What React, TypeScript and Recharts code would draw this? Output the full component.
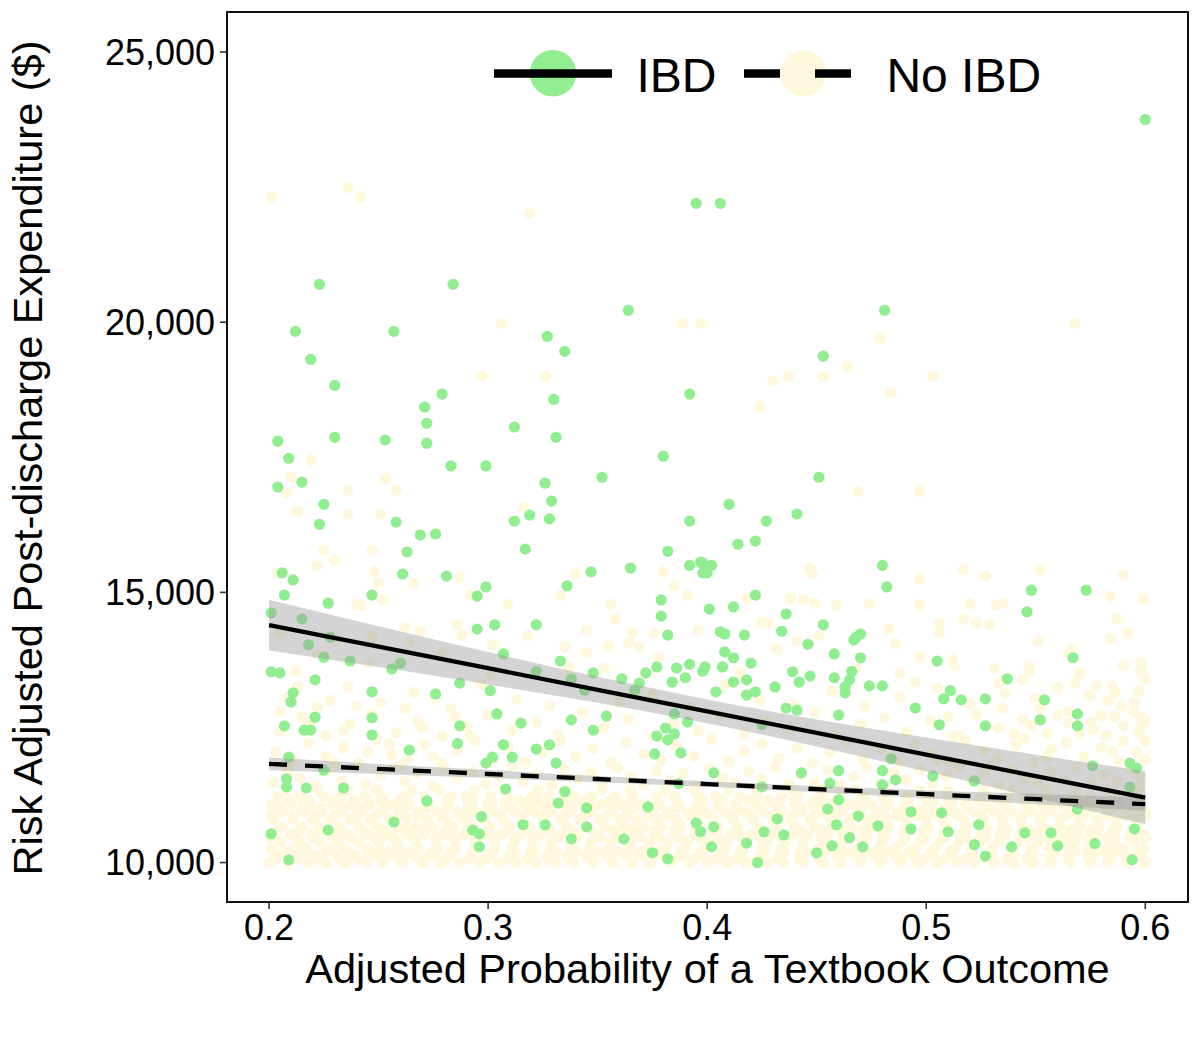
import React from "react";
import {
    ComposedChart,
    Scatter,
    Area,
    Line,
    XAxis,
    YAxis,
    ReferenceArea,
} from "recharts";

const FONT = '"Liberation Sans", Arial, Helvetica, sans-serif';
const W = 1192;
const H = 1042;

const IBD_COLOR = "#90EE90";
const NO_IBD_COLOR = "#FFF8DC";

const xTicks = [0.2, 0.3, 0.4, 0.5, 0.6];
const yTicks = [10000, 15000, 20000, 25000];
const xDomain = [0.1808, 0.6195];
const yDomain = [9270, 25740];

// fitted lines + 95% bands
const fitX = [0.2, 0.25, 0.3, 0.35, 0.4, 0.45, 0.5, 0.55, 0.6];
const ibdFit = [14395, 13996, 13596, 13197, 12798, 12398, 11999, 11599, 11200];
const ibdLower = [13925, 13617, 13297, 12957, 12578, 12148, 11685, 11201, 10710];
const ibdUpper = [14865, 14375, 13895, 13437, 13018, 12648, 12313, 11997, 11690];
const noIbdFit = [11825, 11732, 11639, 11546, 11453, 11359, 11266, 11173, 11080];
const noIbdLower = [11708, 11640, 11567, 11488, 11401, 11301, 11192, 11077, 10958];
const noIbdUpper = [11942, 11824, 11711, 11604, 11505, 11417, 11340, 11269, 11202];

// IBD patients (green)
const ibdPoints: [number, number][] = [
    [.395, 22200], [.406, 22200], [.223, 20700], [.284, 20700], [.212, 19830], [.257, 19830], [.219, 19310], [.230, 18830],
    [.364, 20220], [.327, 19740], [.335, 19460], [.330, 18570], [.392, 18670], [.279, 18670], [.271, 18430], [.272, 18130],
    [.312, 18060], [.331, 17870], [.204, 17800], [.230, 17870], [.253, 17820], [.272, 17760], [.380, 17520], [.209, 17480],
    [.600, 23750], [.481, 20220], [.453, 19370],
    [.283, 17340], [.299, 17340], [.204, 16950], [.215, 17040], [.352, 17130], [.326, 17020], [.329, 16690], [.225, 16630],
    [.223, 16260], [.258, 16300], [.319, 16430], [.312, 16320], [.328, 16360], [.392, 16320], [.269, 16060], [.276, 16080],
    [.263, 15750], [.317, 15800], [.382, 15760], [.365, 15450], [.347, 15380], [.392, 15500], [.397, 15560], [.398, 15360],
    [.206, 15360], [.211, 15230], [.261, 15340], [.281, 15300], [.336, 15120], [.299, 15100], [.295, 14930], [.207, 14950],
    [.247, 14950], [.227, 14800], [.379, 14860], [.379, 14560], [.201, 14620], [.215, 14510], [.295, 14320], [.322, 14400],
    [.303, 14400], [.382, 14210], [.218, 14030], [.228, 14170], [.225, 13800], [.237, 13730], [.307, 13860], [.333, 13730],
    [.260, 13690], [.256, 13580], [.322, 13540], [.348, 13510], [.372, 13510], [.377, 13620], [.386, 13600], [.392, 13670],
    [.398, 13540], [.201, 13530], [.205, 13510], [.338, 13400], [.361, 13400], [.369, 13320], [.390, 13420], [.384, 13340],
    [.287, 13320], [.344, 13190], [.367, 13190], [.221, 13380], [.211, 13140], [.247, 13160], [.276, 13120], [.301, 13180],
    [.210, 12970], [.221, 12690], [.304, 12750], [.354, 12710], [.385, 12750], [.247, 12680], [.315, 12580], [.338, 12640],
    [.207, 12530], [.216, 12450], [.219, 12450], [.287, 12530], [.348, 12450], [.381, 12490], [.377, 12340], [.385, 12380],
    [.382, 12270], [.391, 12600], [.247, 12360], [.286, 12200], [.264, 12080], [.307, 12180], [.322, 12100], [.328, 12180],
    [.376, 12010], [.388, 12030], [.209, 11950], [.311, 11950], [.302, 11950], [.299, 11840], [.331, 11840], [.225, 11710],
    [.208, 11550], [.208, 11400], [.217, 11380], [.234, 11380], [.335, 11310], [.387, 11460], [.308, 11360], [.332, 11100],
    [.272, 11140], [.345, 11010], [.373, 11030], [.297, 10850], [.257, 10750], [.201, 10530], [.227, 10600], [.293, 10600],
    [.296, 10530], [.316, 10700], [.326, 10700], [.345, 10660], [.338, 10440], [.362, 10440], [.395, 10730], [.397, 10570],
    [.296, 10290], [.209, 10050], [.375, 10180], [.382, 10070],
    [.451, 17130], [.410, 16630], [.427, 16320], [.441, 16450], [.414, 15890], [.422, 15950], [.480, 15500], [.482, 15100],
    [.548, 15040], [.573, 15040], [.546, 14640], [.398, 15540], [.402, 15500], [.400, 15360], [.422, 14950], [.401, 14690],
    [.412, 14730], [.436, 14600], [.434, 14280], [.453, 14400], [.406, 14270], [.408, 14230], [.417, 14210], [.468, 14170],
    [.470, 14230], [.467, 14120], [.446, 14040], [.408, 13900], [.412, 13790], [.458, 13860], [.470, 13790], [.505, 13730],
    [.567, 13790], [.399, 13620], [.407, 13620], [.420, 13690], [.439, 13530], [.447, 13450], [.442, 13340], [.412, 13340],
    [.418, 13380], [.458, 13420], [.466, 13540], [.465, 13380], [.463, 13250], [.463, 13140], [.474, 13270], [.480, 13270],
    [.537, 13400], [.431, 13250], [.422, 13160], [.418, 13100], [.404, 13160], [.511, 13180], [.508, 13030], [.516, 13010],
    [.527, 13030], [.554, 13010], [.436, 12860], [.441, 12820], [.495, 12860], [.552, 12640], [.569, 12750], [.569, 12530],
    [.460, 12730], [.527, 12530], [.506, 12550], [.425, 12550], [.484, 11920], [.593, 11840], [.596, 11750], [.576, 11790],
    [.460, 11700], [.480, 11700], [.486, 11530], [.503, 11600], [.480, 11440], [.522, 11510], [.593, 11400], [.456, 11470],
    [.443, 11660], [.460, 11160], [.455, 10990], [.403, 11660], [.425, 11400], [.569, 10990], [.493, 10940], [.507, 10920],
    [.469, 10860], [.432, 10810], [.478, 10680], [.493, 10620], [.557, 10550], [.595, 10620], [.403, 10660], [.426, 10570],
    [.435, 10510], [.459, 10700], [.465, 10460], [.510, 10570], [.524, 10700], [.545, 10550], [.457, 10310], [.522, 10330],
    [.539, 10290], [.560, 10310], [.577, 10350], [.471, 10290], [.450, 10180], [.594, 10050], [.423, 10000], [.527, 10120],
    [.402, 10290], [.418, 10360],
];

// No IBD patients (cream): the dense bottom band, row by row
const noIbdRows: [number, number[]][] = [
    [10000, [.200, .209, .218, .226, .235, .244, .252, .261, .270, .279, .287, .296, .305, .313, .322, .331, .339, .348, .357, .366, .374, .383, .392, .400, .409, .418, .427, .435, .444, .453, .461, .470, .479, .488, .496, .505, .514, .522, .531, .540, .549, .557, .566, .575, .583, .592, .600]],
    [10065, [.203, .213, .222, .233, .241, .252, .261, .271, .280, .291, .299, .309, .318, .328, .337, .347, .356, .366, .375, .385, .394, .404, .413, .423, .432, .442, .451, .461, .470, .480, .489, .499, .508, .518, .527, .537, .546, .556, .565, .575, .584, .594]],
    [10130, [.204, .213, .221, .231, .239, .248, .257, .266, .275, .283, .292, .301, .310, .319, .327, .336, .345, .354, .363, .371, .380, .389, .398, .407, .415, .424, .433, .442, .451, .459, .468, .477, .486, .495, .503, .512, .521, .530, .539, .547, .556, .565, .574, .583, .591, .598]],
    [10200, [.207, .216, .226, .236, .245, .255, .264, .274, .283, .293, .302, .312, .321, .331, .340, .350, .359, .369, .378, .388, .397, .407, .416, .426, .435, .445, .454, .464, .473, .483, .492, .502, .511, .521, .530, .540, .549, .559, .568, .578, .587, .597]],
    [10260, [.201, .211, .217, .228, .234, .245, .250, .259, .268, .277, .285, .294, .303, .311, .320, .329, .338, .346, .355, .364, .373, .381, .390, .399, .408, .416, .425, .434, .443, .451, .460, .469, .478, .486, .495, .504, .513, .521, .530, .539, .548, .556, .565, .574, .582, .590, .599]],
    [10390, [.205, .214, .223, .232, .241, .250, .258, .267, .276, .285, .294, .303, .312, .320, .329, .338, .347, .356, .365, .374, .382, .391, .400, .409, .418, .427, .436, .444, .453, .462, .471, .480, .489, .498, .506, .515, .524, .533, .542, .551, .560, .568, .577, .586, .595]],
    [10460, [.200, .212, .220, .230, .238, .248, .257, .266, .276, .284, .295, .303, .313, .322, .332, .340, .351, .359, .369, .378, .387, .397, .405, .416, .424, .434, .443, .452, .462, .471, .480, .490, .499, .508, .518, .527, .536, .546, .555, .564, .574, .583, .593, .600]],
    [10520, [.200, .210, .219, .228, .236, .245, .254, .263, .271, .280, .289, .298, .306, .315, .324, .333, .341, .350, .359, .368, .376, .385, .394, .403, .411, .420, .429, .438, .446, .455, .464, .473, .481, .490, .499, .508, .516, .525, .534, .543, .551, .560, .569, .578, .586, .595, .600]],
    [10600, [.204, .214, .224, .233, .243, .252, .262, .271, .281, .290, .300, .309, .319, .328, .338, .347, .357, .366, .376, .385, .395, .404, .414, .423, .433, .442, .452, .461, .471, .480, .490, .499, .509, .518, .528, .537, .547, .556, .566, .575, .585, .594]],
    [10660, [.206, .215, .223, .232, .241, .249, .258, .267, .275, .284, .293, .301, .310, .319, .327, .336, .345, .353, .362, .371, .379, .388, .397, .405, .414, .423, .431, .440, .449, .457, .466, .475, .483, .492, .501, .509, .518, .527, .535, .544, .553, .561, .570, .579, .587, .596]],
    [10800, [.202, .211, .220, .228, .237, .246, .255, .263, .272, .281, .290, .298, .307, .316, .325, .333, .342, .351, .360, .368, .377, .386, .395, .403, .412, .421, .430, .438, .447, .456, .465, .473, .482, .491, .500, .508, .517, .526, .535, .543, .552, .561, .570, .578, .587, .596]],
    [10870, [.201, .211, .221, .230, .240, .249, .259, .268, .278, .287, .297, .306, .316, .325, .335, .344, .354, .363, .373, .382, .392, .401, .411, .420, .430, .439, .449, .458, .468, .477, .487, .496, .506, .515, .525, .534, .544, .553, .563, .572, .582, .591, .600]],
    [10940, [.206, .216, .224, .233, .242, .251, .259, .268, .277, .286, .294, .303, .312, .321, .329, .338, .347, .356, .364, .373, .382, .391, .399, .408, .417, .426, .434, .443, .452, .461, .469, .478, .487, .496, .504, .513, .522, .531, .539, .548, .557, .566, .574, .583, .592, .600]],
    [11010, [.205, .215, .224, .234, .243, .253, .262, .272, .281, .291, .300, .310, .319, .329, .338, .348, .357, .367, .376, .386, .395, .405, .414, .424, .433, .443, .452, .462, .471, .481, .490, .500, .509, .519, .528, .538, .547, .557, .566, .576, .585, .595]],
    [11080, [.201, .210, .219, .229, .238, .246, .256, .264, .273, .282, .291, .300, .308, .317, .326, .335, .343, .352, .361, .370, .378, .387, .396, .405, .413, .422, .431, .440, .448, .457, .466, .475, .483, .492, .501, .510, .518, .527, .536, .545, .553, .562, .571, .580, .588, .597]],
    [11150, [.209, .218, .230, .239, .251, .260, .272, .281, .293, .302, .314, .323, .335, .344, .356, .365, .377, .386, .398, .407, .419, .428, .440, .449, .461, .470, .482, .491, .503, .512, .524, .533, .545, .554, .566, .575, .587, .596]],
    [11220, [.204, .214, .225, .233, .244, .252, .262, .271, .283, .290, .301, .309, .320, .328, .339, .347, .358, .366, .377, .385, .396, .404, .415, .423, .434, .442, .453, .461, .472, .480, .491, .499, .510, .518, .529, .537, .548, .556, .567, .575, .586, .594]],
    [11340, [.208, .222, .236, .249, .265, .278, .294, .307, .323, .336, .352, .365, .381, .394, .410, .423, .439, .452, .468, .481, .497, .510, .526, .539, .555, .568, .584, .597]],
];

// No IBD patients (cream): scattered points above the band
const noIbdPoints: [number, number][] = [
    [.202, 11480], [.209, 11720], [.214, 11560], [.221, 11430], [.226, 11690], [.233, 11520], [.239, 11770], [.244, 11450],
    [.251, 11610], [.257, 11760], [.262, 11500], [.268, 11650], [.275, 11420], [.280, 11730], [.286, 11560], [.293, 11680],
    [.299, 11450], [.305, 11600], [.311, 11780], [.316, 11490], [.322, 11640], [.329, 11430], [.335, 11720], [.341, 11550],
    [.347, 11660], [.352, 11470], [.359, 11760], [.365, 11580], [.371, 11440], [.377, 11700], [.383, 11520], [.389, 11650],
    [.395, 11430], [.401, 11740], [.407, 11560], [.413, 11480], [.419, 11690], [.425, 11540], [.431, 11770], [.437, 11450],
    [.443, 11620], [.449, 11500], [.455, 11710], [.461, 11430], [.467, 11590], [.473, 11760], [.479, 11470], [.485, 11650],
    [.491, 11540], [.497, 11720], [.503, 11440], [.509, 11600], [.515, 11780], [.521, 11500], [.527, 11660], [.533, 11420],
    [.539, 11710], [.545, 11560], [.551, 11480], [.557, 11690], [.563, 11530], [.569, 11760], [.575, 11450], [.581, 11620],
    [.587, 11500], [.593, 11730], [.598, 11560],
    [.203, 12050], [.211, 11880], [.218, 12210], [.226, 11960], [.234, 12130], [.241, 11840], [.249, 12270], [.256, 12000],
    [.263, 11900], [.271, 12180], [.279, 11830], [.286, 12080], [.294, 12250], [.302, 11920], [.309, 12140], [.317, 11860],
    [.325, 12030], [.333, 12260], [.340, 11950], [.348, 12110], [.356, 11850], [.363, 12220], [.371, 12010], [.379, 11890],
    [.386, 12160], [.394, 11970], [.402, 12280], [.410, 11870], [.417, 12070], [.425, 12200], [.433, 11930], [.441, 12120],
    [.448, 11840], [.456, 12040], [.464, 12240], [.471, 11910], [.479, 12100], [.487, 11860], [.495, 12190], [.502, 12000],
    [.510, 11880], [.518, 12250], [.526, 12060], [.533, 11940], [.541, 12170], [.549, 11850], [.557, 12090], [.564, 12230],
    [.572, 11960], [.580, 12130], [.588, 11880], [.596, 12040], [.600, 12260],
    [.205, 12420], [.215, 12690], [.226, 12350], [.237, 12560], [.247, 12760], [.258, 12400], [.268, 12620], [.279, 12330],
    [.290, 12520], [.300, 12730], [.311, 12450], [.322, 12600], [.332, 12370], [.343, 12780], [.353, 12500], [.364, 12650],
    [.375, 12340], [.385, 12580], [.396, 12440], [.406, 12720], [.417, 12380], [.428, 12610], [.438, 12480], [.449, 12770],
    [.459, 12360], [.470, 12560], [.481, 12680], [.491, 12420], [.502, 12620], [.512, 12330], [.523, 12750], [.533, 12500],
    [.544, 12650], [.555, 12390], [.565, 12580], [.576, 12460], [.586, 12700], [.597, 12400], [.600, 12610], [.540, 12380],
    [.560, 12720], [.575, 12600], [.590, 12530], [.595, 12790], [.548, 12540], [.582, 12350],
    [.208, 13050], [.222, 12880], [.236, 13250], [.251, 12960], [.266, 13150], [.283, 12850], [.297, 13300], [.313, 13020],
    [.328, 12900], [.344, 13200], [.360, 12980], [.375, 13100], [.392, 12870], [.408, 13280], [.424, 13000], [.440, 12920],
    [.457, 13180], [.472, 12890], [.488, 13060], [.505, 13230], [.520, 12940], [.536, 13120], [.552, 12860], [.568, 13320],
    [.583, 13000], [.597, 13180], [.589, 12900], [.575, 13080], [.560, 13240],
    [.505, 11900], [.515, 12350], [.530, 11820], [.545, 12300], [.555, 11950], [.570, 12400], [.585, 12050], [.590, 12250],
    [.600, 11900], [.565, 12800], [.580, 12720], [.598, 12500], [.510, 12700], [.535, 12850], [.550, 13050], [.585, 13250],
    [.600, 13400], [.570, 13500], [.590, 13650],
    [.205, 12800], [.213, 13250], [.219, 12600], [.228, 13000], [.234, 12450], [.240, 12900], [.255, 12200], [.262, 12850],
    [.270, 12500], [.276, 13050], [.285, 12700], [.292, 12350], [.208, 11800], [.230, 11850], [.245, 12050], [.260, 11780],
    [.275, 11950],
    [.212, 13550], [.231, 14100], [.246, 13700], [.262, 14350], [.279, 13900], [.301, 13480], [.318, 14200], [.337, 13620],
    [.355, 14000], [.378, 13800], [.396, 14300], [.415, 13500], [.432, 13950], [.451, 14200], [.468, 13600], [.486, 14050],
    [.512, 13750], [.529, 14400], [.547, 13550], [.566, 13950], [.584, 14150], [.598, 13700], [.205, 14250], [.222, 13850],
    [.425, 14450],
    [.201, 22310], [.236, 22490], [.242, 22310], [.319, 22010], [.306, 19980], [.389, 19980], [.397, 19980], [.568, 19980],
    [.479, 19700], [.430, 18910], [.437, 19000], [.453, 19000], [.464, 19170], [.424, 18440], [.484, 18700], [.503, 19000],
    [.297, 19000], [.326, 19000],
    [.219, 17450], [.210, 17130], [.253, 17100], [.236, 16890], [.258, 16890], [.208, 16840], [.213, 16500], [.236, 16450],
    [.251, 16450], [.316, 16580], [.225, 15780], [.230, 15600], [.222, 15490], [.247, 15780], [.204, 15360], [.248, 15390],
    [.250, 15170], [.266, 15170], [.287, 15280], [.340, 15340], [.380, 15380], [.385, 15120], [.391, 14950], [.333, 14950],
    [.292, 14950], [.309, 14780], [.356, 14780], [.358, 14510], [.345, 14300], [.345, 13880], [.353, 13600], [.376, 14250],
    [.366, 14250], [.364, 14060], [.369, 13990], [.269, 14280], [.286, 14400], [.288, 14210], [.302, 14030], [.335, 13990],
    [.240, 14780], [.242, 14760], [.252, 14860], [.247, 14170], [.264, 14080],
    [.469, 16870], [.497, 16870], [.447, 15450], [.448, 15340], [.517, 15430], [.527, 15300], [.552, 15430], [.590, 15320],
    [.497, 15250], [.418, 14890], [.438, 14890], [.444, 14880], [.449, 14800], [.459, 14760], [.474, 14790], [.497, 14770],
    [.520, 14790], [.532, 14760], [.535, 14800], [.584, 14930], [.599, 14880], [.587, 14510], [.592, 14250], [.517, 14510],
    [.523, 14430], [.506, 14430], [.506, 14250], [.483, 14320], [.428, 14430], [.441, 14100], [.551, 14100], [.565, 13880],
    [.598, 13540], [.497, 13800], [.488, 13510], [.495, 13340], [.513, 13640], [.531, 13600], [.547, 13640], [.544, 13380],
    [.533, 13320], [.578, 13270], [.586, 13140], [.574, 13100], [.595, 12970], [.598, 12690],
];

const fitRows = fitX.map((x, i) => ({
    x,
    ibdFit: ibdFit[i],
    ibdBand: [ibdLower[i], ibdUpper[i]],
    noIbdFit: noIbdFit[i],
    noIbdBand: [noIbdLower[i], noIbdUpper[i]],
}));

const noIbdData = [
    ...noIbdRows.flatMap(([y, xs]) => xs.map((x) => ({ x, y }))),
    ...noIbdPoints.map(([x, y]) => ({ x, y })),
];
const ibdData = ibdPoints.map(([x, y]) => ({ x, y }));

function dot(color: string) {
    return (props: any) => <circle cx={props.cx} cy={props.cy} r={5.6} fill={color} />;
}

export default function App() {
    return (
        <div style={{ position: "relative", width: W, height: H, fontFamily: FONT, background: "#fff" }}>
            <ComposedChart
                width={W}
                height={H}
                data={fitRows}
                margin={{ top: 4, right: 12, bottom: 0, left: 0 }}
            >
                <XAxis
                    type="number"
                    dataKey="x"
                    domain={xDomain}
                    ticks={xTicks}
                    allowDataOverflow
                    height={148}
                    axisLine={false}
                    tickLine={{ stroke: "#333", strokeWidth: 1.6 }}
                    tickSize={7}
                    tickMargin={5}
                    tick={{ fontSize: 36, fill: "#000" }}
                    tickFormatter={(v: number) => v.toFixed(1)}
                />
                <YAxis
                    type="number"
                    domain={yDomain}
                    ticks={yTicks}
                    allowDataOverflow
                    width={219}
                    axisLine={false}
                    tickLine={{ stroke: "#333", strokeWidth: 1.6 }}
                    tickSize={7}
                    tickMargin={5}
                    tick={{ fontSize: 36, fill: "#000" }}
                    tickFormatter={(v: number) => v.toLocaleString("en-US")}
                />
                <Scatter
                    data={noIbdData}
                    dataKey="y"
                    shape={dot(NO_IBD_COLOR)}
                    isAnimationActive={false}
                    zIndex={200}
                />
                <Scatter
                    data={ibdData}
                    dataKey="y"
                    shape={dot(IBD_COLOR)}
                    isAnimationActive={false}
                    zIndex={210}
                />
                <Area
                    type="monotone"
                    dataKey="ibdBand"
                    stroke="none"
                    fill="#999999"
                    fillOpacity={0.42}
                    isAnimationActive={false}
                    activeDot={false}
                    zIndex={300}
                />
                <Area
                    type="monotone"
                    dataKey="noIbdBand"
                    stroke="none"
                    fill="#999999"
                    fillOpacity={0.42}
                    isAnimationActive={false}
                    activeDot={false}
                    zIndex={300}
                />
                <Line
                    type="linear"
                    dataKey="ibdFit"
                    stroke="#000"
                    strokeWidth={4.3}
                    dot={false}
                    activeDot={false}
                    isAnimationActive={false}
                    zIndex={400}
                />
                <Line
                    type="linear"
                    dataKey="noIbdFit"
                    stroke="#000"
                    strokeWidth={4.3}
                    strokeDasharray="18 18"
                    dot={false}
                    activeDot={false}
                    isAnimationActive={false}
                    zIndex={400}
                />
                <ReferenceArea
                    x1={xDomain[0]}
                    x2={xDomain[1]}
                    y1={yDomain[0]}
                    y2={yDomain[1]}
                    fill="none"
                    stroke="#111"
                    strokeWidth={2}
                    ifOverflow="visible"
                    zIndex={500}
                />
            </ComposedChart>
            <svg
                width={W}
                height={H}
                style={{ position: "absolute", left: 0, top: 0, pointerEvents: "none" }}
            >
                <circle cx={545} cy={65.3} r={23.3} fill={IBD_COLOR} />
                <line x1={486} x2={604} y1={65.5} y2={65.5} stroke="#000" strokeWidth={8.4} />
                <text x={628.5} y={83.7} fontSize={48} fill="#000">IBD</text>
                <circle cx={795.3} cy={65.3} r={23} fill={NO_IBD_COLOR} />
                <line x1={736} x2={843} y1={65.5} y2={65.5} stroke="#000" strokeWidth={8.4} strokeDasharray="36 35" />
                <text x={878.4} y={83.7} fontSize={48} fill="#000">No IBD</text>
                <text x={699.5} y={975} fontSize={41.5} fill="#000" textAnchor="middle">
                    Adjusted Probability of a Textbook Outcome
                </text>
                <text
                    x={33.7}
                    y={450}
                    fontSize={41.5}
                    fill="#000"
                    textAnchor="middle"
                    transform="rotate(-90 33.7 450)"
                >
                    Risk Adjusted Post-discharge Expenditure ($)
                </text>
            </svg>
        </div>
    );
}
